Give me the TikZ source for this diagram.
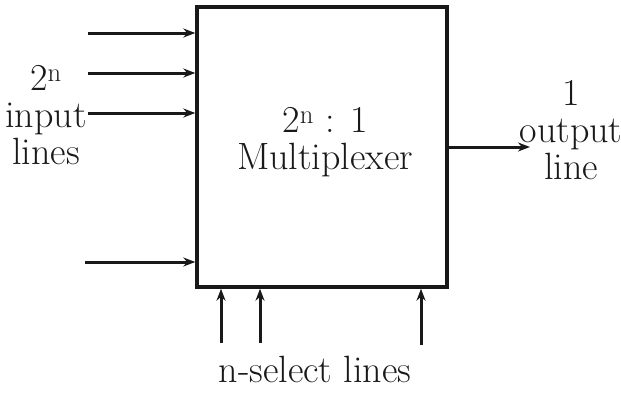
\documentclass[tikz,border=0pt]{standalone}
\usetikzlibrary{arrows.meta, positioning}
\definecolor{inkdark}{RGB}{25,25,25}
\tikzset{
  muxbox/.style={rectangle, draw=inkdark, line width=3.4pt,
    minimum width=250pt, minimum height=280pt, inner sep=0pt},
  lbl/.style={align=center, font=\fontsize{38}{37}\selectfont, text=inkdark, inner sep=0pt},
  sig/.style={-{Stealth[length=12pt, width=9pt]}, line width=3pt, color=inkdark}
}
\begin{document}
\begin{tikzpicture}[x=1pt, y=-1pt]
  \useasboundingbox (0,0) rectangle (621,392);
  \node[muxbox] (mux) at (322,147) {};
  \node[lbl] (muxlbl) at (325,142) {2\textsuperscript{n} : 1\\Multiplexer};

  % input lines
  \coordinate (in1) at (88,33);
  \coordinate (in2) at (88,73);
  \coordinate (in3) at (88,113);
  \coordinate (in4) at (85,262);
  \draw[sig] (in1) -- (in1 -| mux.west);
  \draw[sig] (in2) -- (in2 -| mux.west);
  \draw[sig] (in3) -- (in3 -| mux.west);
  \draw[sig] (in4) -- (in4 -| mux.west);
  \node[lbl] (inlbl) at (46,115) {2\textsuperscript{n}\\input\\lines};

  % output line
  \coordinate (out) at (530,147);
  \draw[sig] (out -| mux.east) -- (out);
  \node[lbl] (outlbl) at (571,130) {1\\output\\line};

  % select lines
  \coordinate (sel1) at (221,343);
  \coordinate (sel2) at (260,343);
  \coordinate (sel3) at (421,345);
  \draw[sig] (sel1) -- (sel1 |- mux.south);
  \draw[sig] (sel2) -- (sel2 |- mux.south);
  \draw[sig] (sel3) -- (sel3 |- mux.south);
  \node[lbl] (sellbl) at (315,369) {n-select lines};
\end{tikzpicture}
\end{document}
